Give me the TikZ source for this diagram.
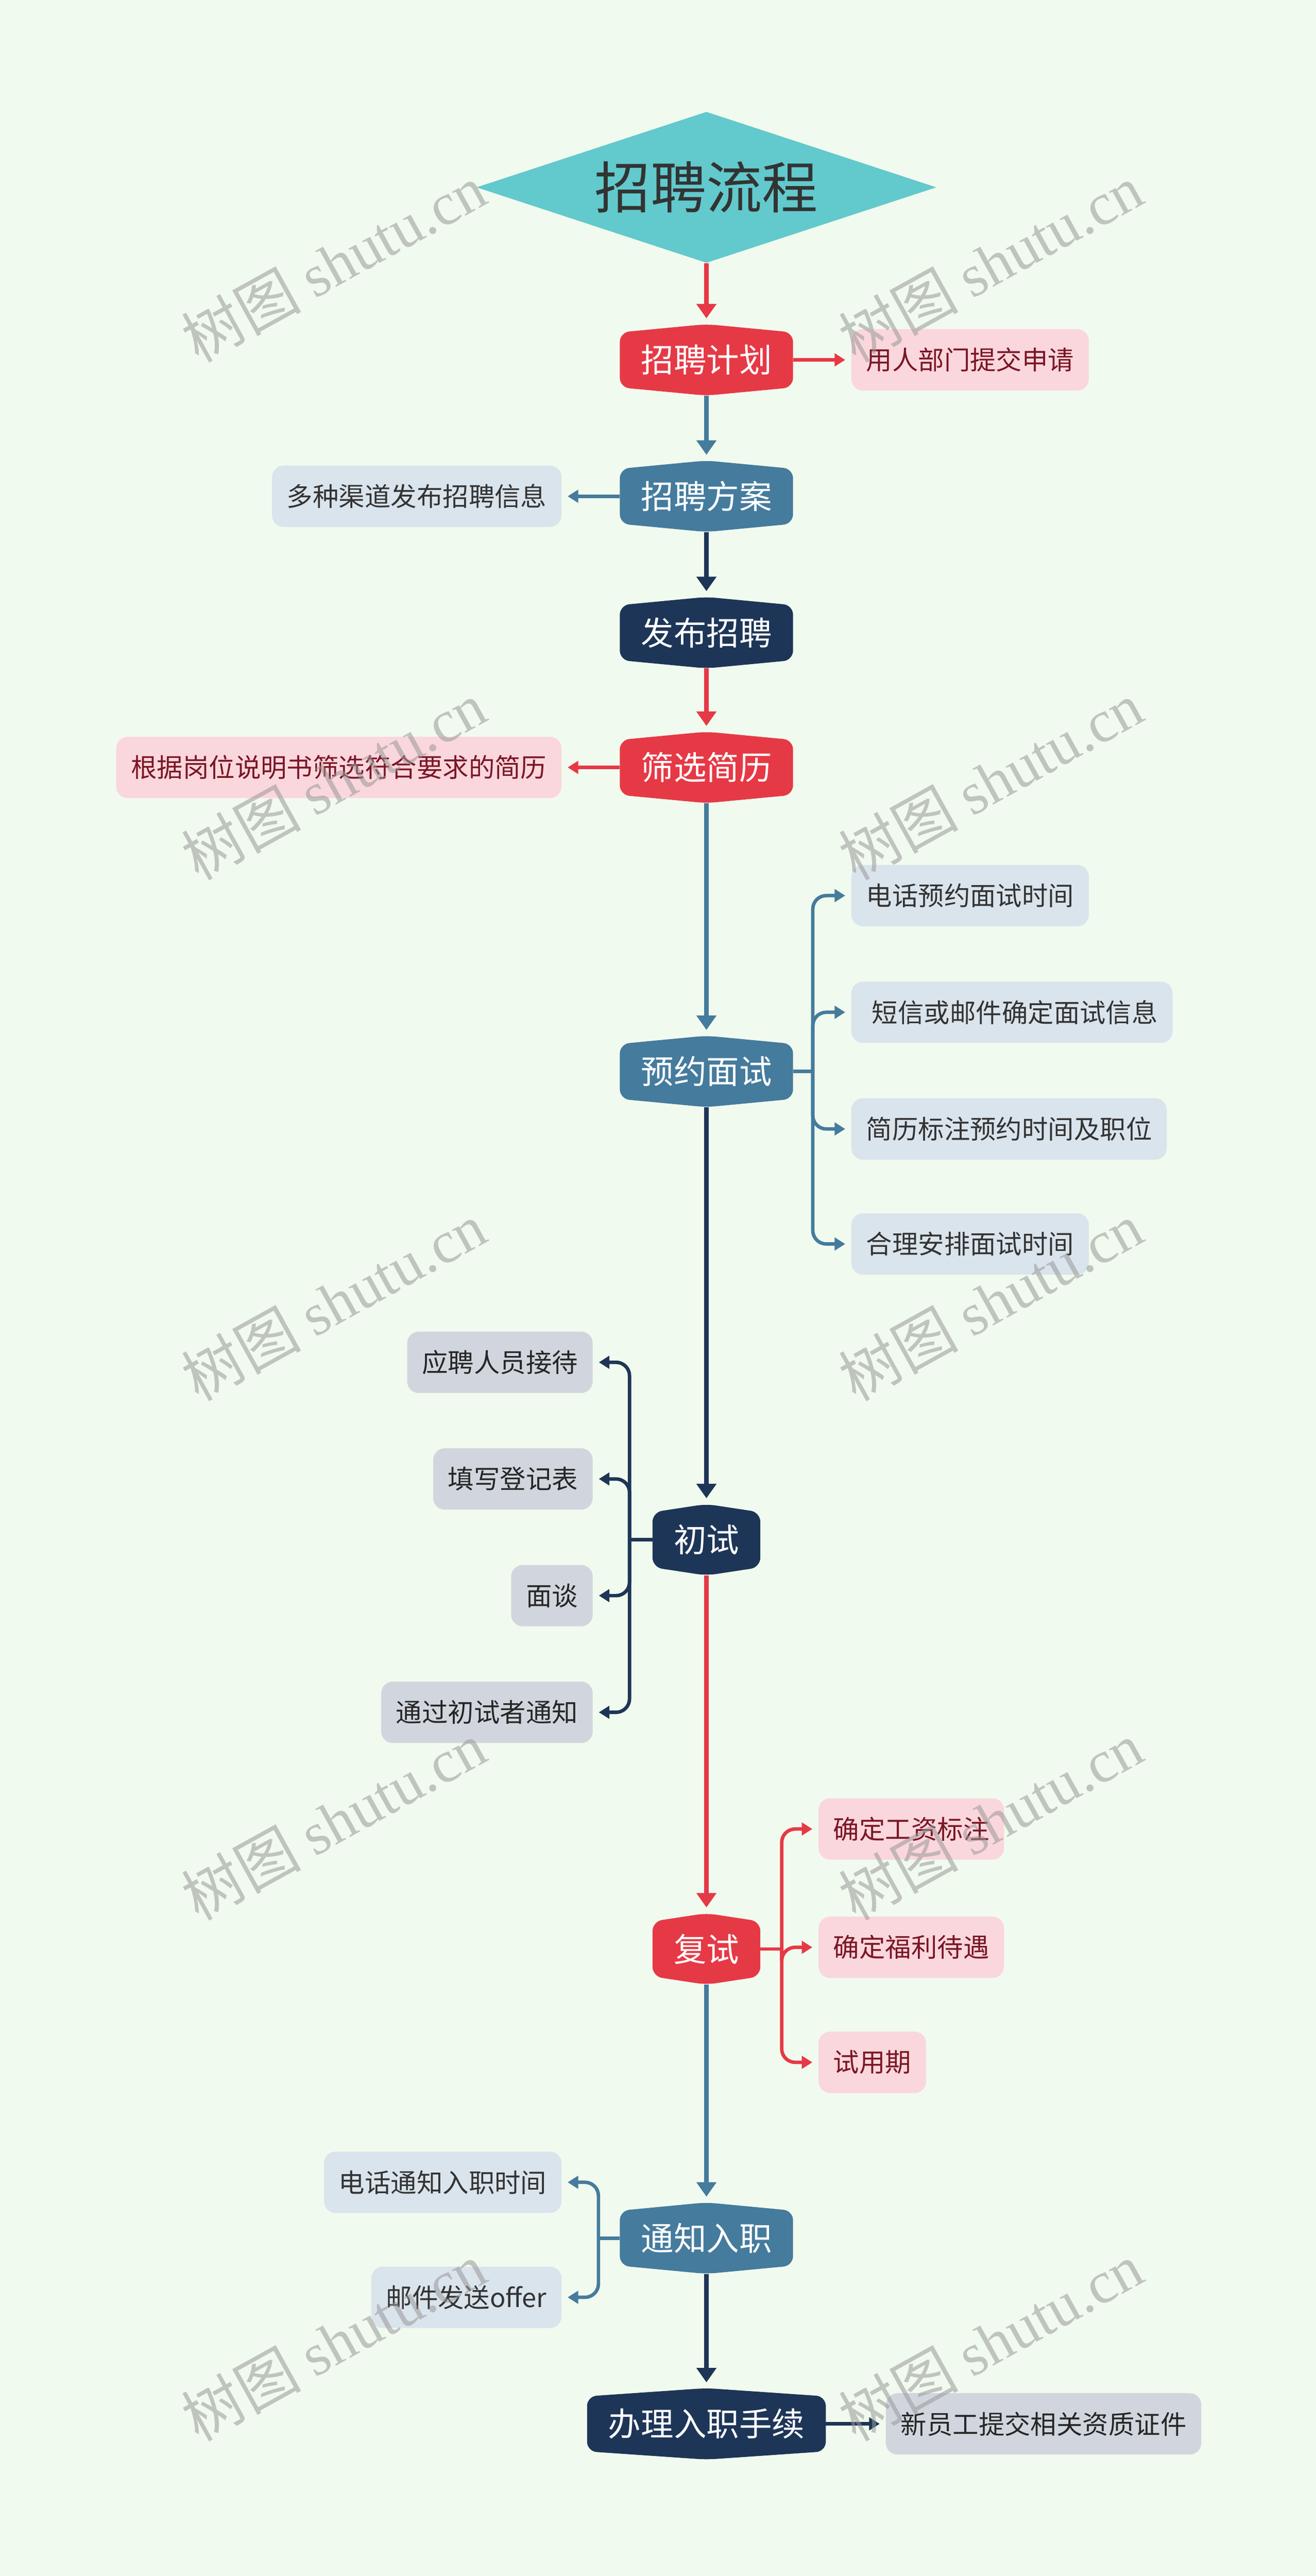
\documentclass[tikz,border=0pt]{standalone}
\usepackage{fontspec}
\setmainfont{Noto Sans CJK SC}
\newfontfamily\wmfont{Liberation Serif}
\usetikzlibrary{shapes.geometric,arrows.meta,calc,backgrounds}

\definecolor{bgmint}{HTML}{F1FAEE}
\definecolor{hrred}{HTML}{E63946}
\definecolor{hrsteel}{HTML}{457B9D}
\definecolor{hrnavy}{HTML}{1D3557}
\definecolor{hrteal}{HTML}{62C9CC}
\definecolor{pinkfill}{HTML}{FAD7DC}
\definecolor{steelfill}{HTML}{DAE4EC}
\definecolor{navyfill}{HTML}{D1D6DE}
\definecolor{redtext}{HTML}{7A1626}

% stage box: rounded body with a flat point on top and bottom
\newcommand{\stageshape}[2]{%
  \fill[#2, rounded corners=5pt] ($(#1.north west)+(0,5)$) -- (#1.north)
    -- ($(#1.north east)+(0,5)$) -- ($(#1.south east)+(0,-5)$) -- (#1.south)
    -- ($(#1.south west)+(0,-5)$) -- cycle;}

\begin{document}
\begin{tikzpicture}[x=0.03cm, y=-0.03cm,
  stage/.style={text=white, font=\fontsize{17}{20}\selectfont,
    minimum height=1.29cm, inner xsep=0.38cm, inner ysep=0pt},
  title/.style={diamond, aspect=3.04, fill=hrteal, text=black!80,
    font=\fontsize{29}{32}\selectfont,
    minimum width=8.4cm, minimum height=2.76cm, inner sep=0pt},
  leaf/.style={rounded corners=6pt, minimum height=1.12cm, inner xsep=0.27cm,
    inner ysep=0pt, font=\fontsize{13.5}{16}\selectfont},
  redsub/.style={leaf, fill=pinkfill, text=redtext},
  steelsub/.style={leaf, fill=steelfill, text=black!80},
  navysub/.style={leaf, fill=navyfill, text=black!85},
  flow/.style={line width=2.6pt, -{Triangle[width=10pt,length=7.5pt]}, shorten >=3pt},
  branch/.style={line width=1.8pt, rounded corners=7pt,
    -{Triangle[width=6.5pt,length=5.5pt]}, shorten >=3pt},
  stub/.style={line width=1.8pt},
  watermark/.style={rotate=29, text=black!40, opacity=.55, font=\fontsize{31}{33}\selectfont}]

\useasboundingbox (0,0) rectangle (801,1567.6);
\begin{scope}[on background layer]
  \fill[bgmint] (0,0) rectangle (801,1567.6);
\end{scope}

% main column
\node[title] (top) at (430,114) {招聘流程};
\node[stage] (plan) at (430,219) {招聘计划};
\node[stage] (scheme) at (430,302) {招聘方案};
\node[stage] (publish) at (430,385) {发布招聘};
\node[stage] (screen) at (430,467) {筛选简历};
\node[stage] (book) at (430,652) {预约面试};
\node[stage] (first) at (430,937) {初试};
\node[stage] (second) at (430,1186) {复试};
\node[stage] (notify) at (430,1362) {通知入职};
\node[stage] (onboard) at (430,1475) {办理入职手续};

\begin{scope}[on background layer]
  \foreach \n/\c in {plan/hrred, scheme/hrsteel, publish/hrnavy, screen/hrred,
      book/hrsteel, first/hrnavy, second/hrred, notify/hrsteel, onboard/hrnavy}
    {\stageshape{\n}{\c}}
\end{scope}

% side items
\node[redsub, anchor=west] (plan1) at (518,219) {用人部门提交申请};
\node[steelsub, anchor=east] (scheme1) at (342,302) {多种渠道发布招聘信息};
\node[redsub, anchor=east] (screen1) at (342,467) {根据岗位说明书筛选符合要求的简历};
\node[steelsub, anchor=west] (book1) at (518,545) {电话预约面试时间};
\node[steelsub, anchor=west] (book2) at (518,616) {\hspace{3pt}短信或邮件确定面试信息};
\node[steelsub, anchor=west] (book3) at (518,687) {简历标注预约时间及职位};
\node[steelsub, anchor=west] (book4) at (518,757) {合理安排面试时间};
\node[navysub, anchor=east] (first1) at (361,829) {应聘人员接待};
\node[navysub, anchor=east] (first2) at (361,900) {填写登记表};
\node[navysub, anchor=east] (first3) at (361,971) {面谈};
\node[navysub, anchor=east] (first4) at (361,1042) {通过初试者通知};
\node[redsub, anchor=west] (second1) at (498,1113) {确定工资标注};
\node[redsub, anchor=west] (second2) at (498,1185) {确定福利待遇};
\node[redsub, anchor=west] (second3) at (498,1255) {试用期};
\node[steelsub, anchor=east] (notify1) at (342,1328) {电话通知入职时间};
\node[steelsub, anchor=east] (notify2) at (342,1398) {邮件发送offer};
\node[navysub, anchor=west] (onboard1) at (539,1475) {新员工提交相关资质证件};

% flow arrows, coloured as their target
\draw[flow, hrred] (top.south) -- (plan.north);
\draw[flow, hrsteel] (plan.south) -- (scheme.north);
\draw[flow, hrnavy] (scheme.south) -- (publish.north);
\draw[flow, hrred] (publish.south) -- (screen.north);
\draw[flow, hrsteel] (screen.south) -- (book.north);
\draw[flow, hrnavy] (book.south) -- (first.north);
\draw[flow, hrred] (first.south) -- (second.north);
\draw[flow, hrsteel] (second.south) -- (notify.north);
\draw[flow, hrnavy] (notify.south) -- (onboard.north);

% single side arrows
\draw[branch, hrred] (plan.east) -- (plan1.west);
\draw[branch, hrsteel] (scheme.west) -- (scheme1.east);
\draw[branch, hrred] (screen.west) -- (screen1.east);
\draw[branch, hrnavy] (onboard.east) -- (onboard1.west);

% forks
\coordinate (bookj) at ($(book.east)+(12,0)$);
\coordinate (firstj) at ($(first.west)+(-14,0)$);
\coordinate (secondj) at ($(second.east)+(13,0)$);
\coordinate (notifyj) at ($(notify.west)+(-13,0)$);
\draw[stub, hrsteel] (book.east) -- (bookj);
\draw[stub, hrnavy] (first.west) -- (firstj);
\draw[stub, hrred] (second.east) -- (secondj);
\draw[stub, hrsteel] (notify.west) -- (notifyj);
\foreach \k in {1,...,4}
  \draw[branch, hrsteel] (bookj) |- (book\k.west);
\foreach \k in {1,...,4}
  \draw[branch, hrnavy] (firstj) |- (first\k.east);
\foreach \k in {1,...,3}
  \draw[branch, hrred] (secondj) |- (second\k.west);
\foreach \k in {1,2}
  \draw[branch, hrsteel] (notifyj) |- (notify\k.east);

% watermark
\foreach \wx/\wy [count=\i] in {203/160, 603/160, 203/475, 603/475, 203/792,
    603/792, 203/1108, 603/1108, 203/1425, 603/1425}
  \node[watermark] (wm\i) at (\wx,\wy) {树图 {\wmfont shutu.cn}};
\end{tikzpicture}
\end{document}
